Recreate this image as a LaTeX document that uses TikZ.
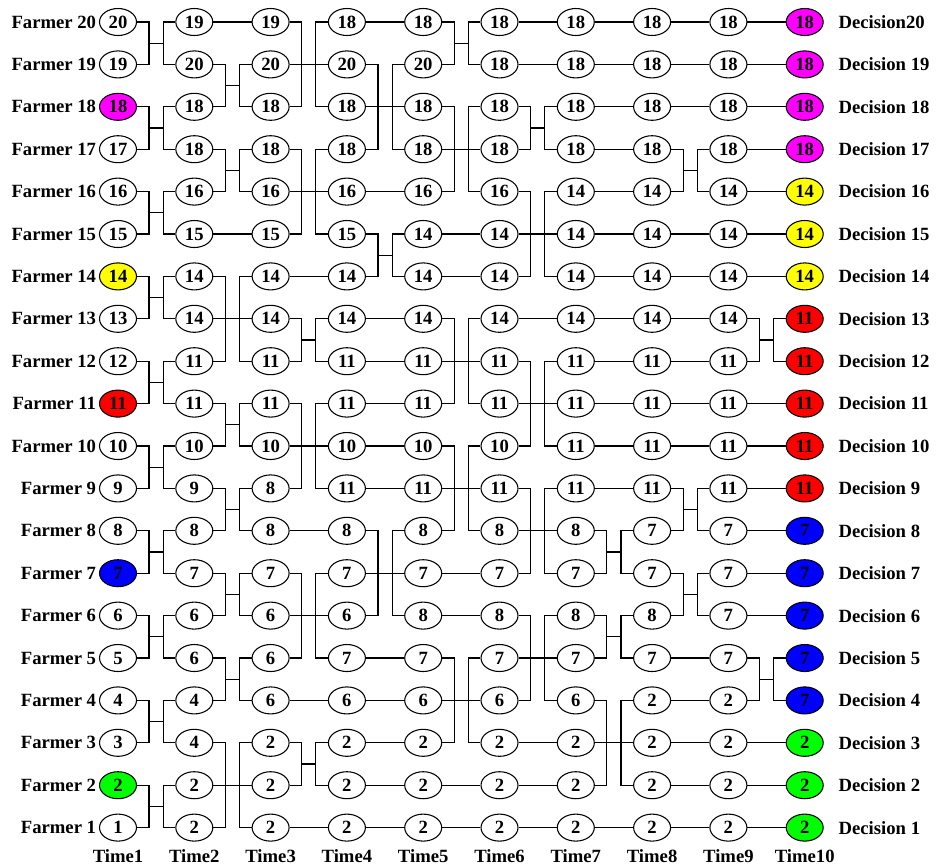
\documentclass[tikz,border=0pt]{standalone}
\usepackage{fontspec}
\setmainfont{Liberation Serif}
\usetikzlibrary{shapes.geometric,positioning,calc}

\definecolor{pickmag}{RGB}{255,0,255}
\definecolor{pickyel}{RGB}{255,255,0}
\definecolor{pickred}{RGB}{255,0,0}
\definecolor{pickblu}{RGB}{0,0,255}
\definecolor{pickgrn}{RGB}{0,255,0}

\tikzset{
  cell/.style={ellipse,draw,line width=0.8pt,minimum width=27.75pt,minimum height=20.25pt,inner sep=0pt,font=\bfseries\fontsize{14}{15}\selectfont},
  tag/.style={inner sep=0pt,font=\bfseries\fontsize{14}{15}\selectfont},
  link/.style={line width=0.9pt}
}

\newcommand{\pairlink}[4]{%
  \draw[link] (n#1-#3.east) -- ++(12,0) |- (n#1-#4.east);
  \draw[link] (n#2-#3.west) -- ++(-12,0) |- (n#2-#4.west);
  \draw[link] ($(n#1-#3.east)!.5!(n#1-#4.east)+(12,0)$) -- ($(n#2-#3.west)!.5!(n#2-#4.west)+(-12,0)$);
}

\begin{document}
\begin{tikzpicture}[x=0.75pt,y=-0.75pt]
\useasboundingbox (0,0) rectangle (937,865);

\foreach \v/\f [count=\i] in {20/white,19/white,18/pickmag,17/white,16/white,15/white,14/pickyel,13/white,12/white,11/pickred,10/white,9/white,8/white,7/pickblu,6/white,5/white,4/white,3/white,2/pickgrn,1/white} {
  \pgfmathtruncatemacro\r{21-\i}
  \node[cell,fill=\f] (n1-\r) at (118,{22+(\i-1)*42.4}) {\v};
  \node[tag,left=2pt of n1-\r] (farmer\r) {Farmer \r};
}

\foreach \c/\vals in {2/{19,20,18,18,16,15,14,14,11,11,10,9,8,7,6,6,4,4,2,2},
                      3/{19,20,18,18,16,15,14,14,11,11,10,8,8,7,6,6,6,2,2,2},
                      4/{18,20,18,18,16,15,14,14,11,11,10,11,8,7,6,7,6,2,2,2},
                      5/{18,20,18,18,16,14,14,14,11,11,10,11,8,7,8,7,6,2,2,2},
                      6/{18,18,18,18,16,14,14,14,11,11,10,11,8,7,8,7,6,2,2,2},
                      7/{18,18,18,18,14,14,14,14,11,11,11,11,8,7,8,7,6,2,2,2},
                      8/{18,18,18,18,14,14,14,14,11,11,11,11,7,7,8,7,2,2,2,2},
                      9/{18,18,18,18,14,14,14,14,11,11,11,11,7,7,7,7,2,2,2,2}} {
  \foreach \v [count=\i] in \vals {
    \pgfmathtruncatemacro\r{21-\i}
    \node[cell] (n\c-\r) at ({118+(\c-1)*76.3},{22+(\i-1)*42.4}) {\v};
  }
}

\foreach \v/\f/\d [count=\i] in {18/pickmag/Decision20,18/pickmag/Decision 19,18/pickmag/Decision 18,18/pickmag/Decision 17,
    14/pickyel/Decision 16,14/pickyel/Decision 15,14/pickyel/Decision 14,11/pickred/Decision 13,11/pickred/Decision 12,11/pickred/Decision 11,
    11/pickred/Decision 10,11/pickred/Decision 9,7/pickblu/Decision 8,7/pickblu/Decision 7,7/pickblu/Decision 6,7/pickblu/Decision 5,7/pickblu/Decision 4,
    2/pickgrn/Decision 3,2/pickgrn/Decision 2,2/pickgrn/Decision 1} {
  \pgfmathtruncatemacro\r{21-\i}
  \node[cell,fill=\f] (n10-\r) at (804.7,{22+(\i-1)*42.4}) {\v};
  \node[tag,right=11pt of n10-\r] (decision\r) {\d};
}

\foreach \c in {1,...,10}
  \node[tag,below=6pt of n\c-1] (time\c) {Time\c};

\foreach \a/\b in {20/19,18/17,16/15,14/13,12/11,10/9,8/7,6/5,4/3,2/1} \pairlink{1}{2}{\a}{\b};

\foreach \r in {20,15,13,2} \draw[link] (n2-\r) -- (n3-\r);
\foreach \a/\b in {19/18,17/16,14/12,11/10,9/8,7/6,5/4,3/1} \pairlink{2}{3}{\a}{\b};

\foreach \r in {19,16,14,10,8,6,4,1} \draw[link] (n3-\r) -- (n4-\r);
\foreach \a/\b in {20/18,17/15,13/12,11/9,7/5,3/2} \pairlink{3}{4}{\a}{\b};

\foreach \r in {20,18,16,13,12,11,10,9,7,5,4,3,2,1} \draw[link] (n4-\r) -- (n5-\r);
\foreach \a/\b in {19/17,15/14,8/6} \pairlink{4}{5}{\a}{\b};

\foreach \r in {17,15,14,12,9,7,6,4,2,1} \draw[link] (n5-\r) -- (n6-\r);
\foreach \a/\b in {20/19,18/16,13/11,10/8,5/3} \pairlink{5}{6}{\a}{\b};

\foreach \r in {20,19,15,13,11,8,5,3,2,1} \draw[link] (n6-\r) -- (n7-\r);
\foreach \a/\b in {18/17,16/14,12/10,9/7,6/4} \pairlink{6}{7}{\a}{\b};

\foreach \r in {20,19,18,17,16,15,14,13,12,11,10,9,3,1} \draw[link] (n7-\r) -- (n8-\r);
\foreach \a/\b in {8/7,6/5,4/2} \pairlink{7}{8}{\a}{\b};

\foreach \r in {20,19,18,15,14,13,12,11,10,5,4,3,2,1} \draw[link] (n8-\r) -- (n9-\r);
\foreach \a/\b in {17/16,9/8,7/6} \pairlink{8}{9}{\a}{\b};

\foreach \r in {20,19,18,17,16,15,14,11,10,9,8,7,6,3,2,1} \draw[link] (n9-\r) -- (n10-\r);
\foreach \a/\b in {13/12,5/4} \pairlink{9}{10}{\a}{\b};
\end{tikzpicture}
\end{document}
